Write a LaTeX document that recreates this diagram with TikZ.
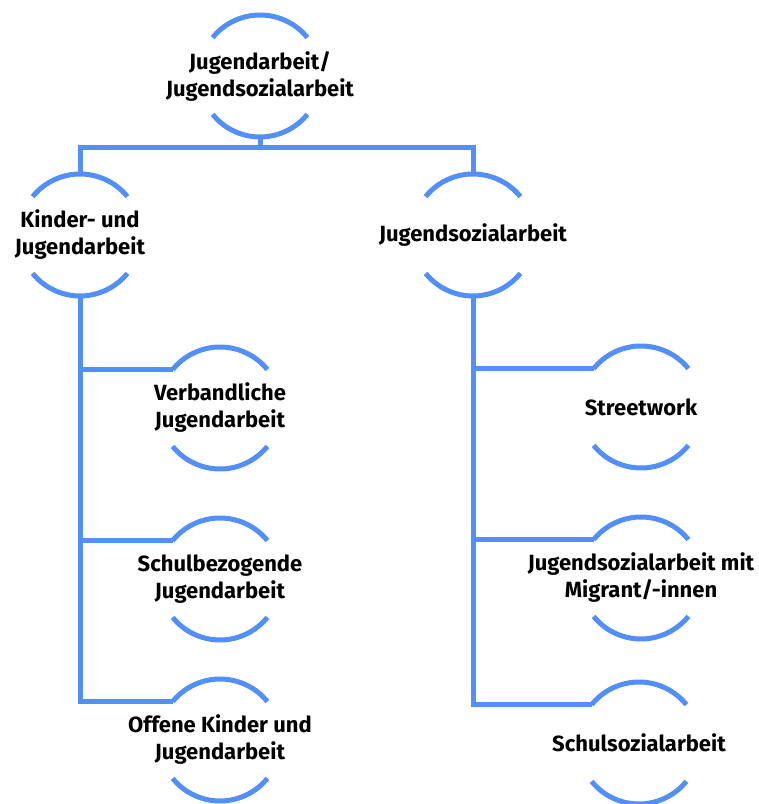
\documentclass[tikz,border=0pt]{standalone}
\usepackage{fontspec}
\setmainfont{Fira Sans}
\definecolor{lineblue}{RGB}{82,143,250}
\begin{document}
\begin{tikzpicture}[x=0.75pt,y=0.75pt,
  hub/.style={circle,draw=none,inner sep=0pt,outer sep=0pt,minimum size=91.5pt},
  txt/.style={align=center,font=\fontsize{16.5}{20.25}\selectfont\bfseries,text=black,inner sep=0pt},
  conn/.style={draw=lineblue,line width=3.75pt},
  arcline/.style={draw=lineblue,line width=3.75pt,line cap=butt}]
\useasboundingbox (0,0) rectangle (758,804);
\node[hub,label={[txt]center:Jugendarbeit/\\Jugendsozialarbeit}] (top) at (260,728) {};
\node[hub,label={[txt]center:Kinder- und\\Jugendarbeit}] (kja) at (80,569) {};
\node[hub,label={[txt]center:Jugendsozialarbeit}] (jsa) at (473,569) {};
\node[hub,label={[txt]center:Verbandliche\\Jugendarbeit}] (verb) at (220,396) {};
\node[hub,label={[txt]center:Schulbezogende\\Jugendarbeit}] (schul) at (220,225) {};
\node[hub,label={[txt]center:Offene Kinder und\\Jugendarbeit}] (off) at (220,64) {};
\node[hub,label={[txt]center:Streetwork}] (street) at (641,397) {};
\node[hub,label={[txt]center:Jugendsozialarbeit mit\\Migrant/-innen}] (migr) at (641,226) {};
\node[hub,label={[txt]center:Schulsozialarbeit}] (ssa) at (639,61) {};
\foreach \n in {top,kja,jsa,verb,schul,off,street,migr,ssa}{
  \draw[arcline] (\n.39) arc[start angle=39,end angle=141,radius=45.75pt];
  \draw[arcline] (\n.219) arc[start angle=219,end angle=321,radius=45.75pt];
}
\draw[conn] (top.south) -- ++(0,-11) coordinate (mid) -| (kja.north);
\draw[conn] (mid) -| (jsa.north);
\draw[conn] (kja.south) |- (verb.141);
\draw[conn] (kja.south) |- (schul.141);
\draw[conn] (kja.south) |- (off.141);
\draw[conn] (jsa.south) |- (street.141);
\draw[conn] (jsa.south) |- (migr.141);
\draw[conn] (jsa.south) |- (ssa.141);
\end{tikzpicture}
\end{document}
